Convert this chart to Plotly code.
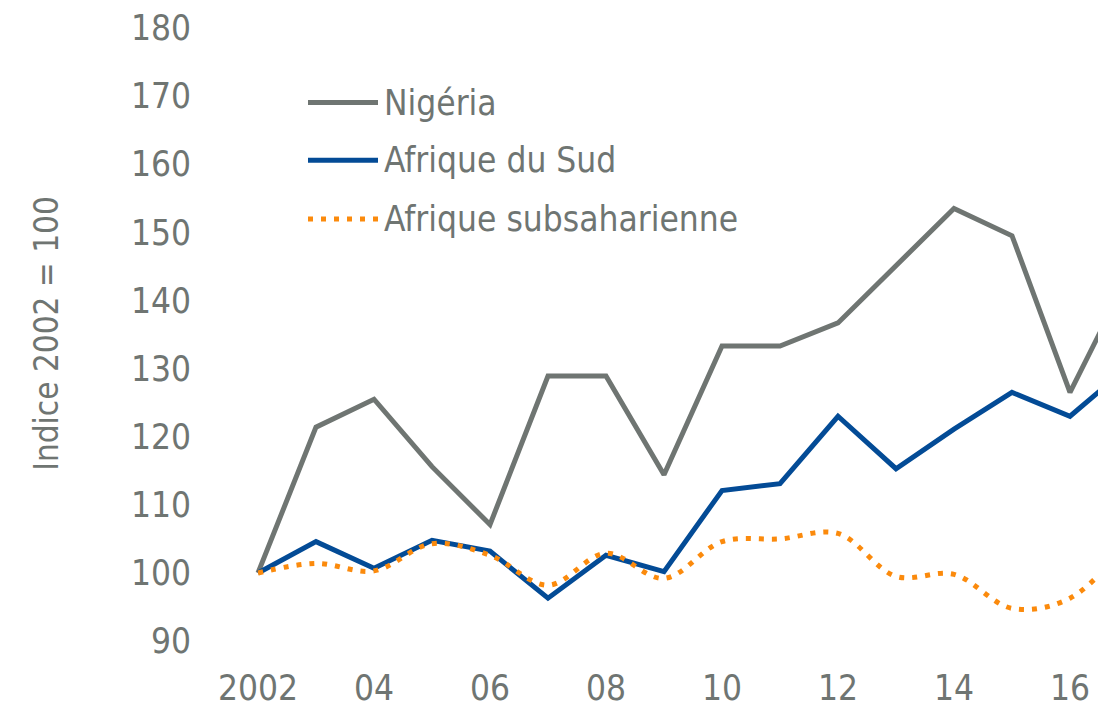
import plotly.graph_objects as go

years = list(range(2002, 2018))
nigeria = [100, 121.4, 125.5, 115.6, 107.1, 128.9, 128.9, 114.4, 133.3, 133.3, 136.7, 145.2, 153.5, 149.5, 126.5, 143.5]
afrique_sud = [100, 104.6, 100.7, 104.8, 103.2, 96.3, 102.6, 100.2, 112.1, 113.1, 123.0, 115.3, 121.1, 126.5, 123.0, 130.2]
afrique_subsah = [100, 101.4, 100.3, 104.3, 102.6, 98.2, 102.9, 99.2, 104.6, 105.0, 105.8, 99.5, 99.8, 94.8, 96.3, 104.5]

tick_vals = [2002, 2004, 2006, 2008, 2010, 2012, 2014, 2016]
tick_text = ["2002", "04", "06", "08", "10", "12", "14", "16"]
y_ticks = list(range(90, 181, 10))

series_names = ["Nigéria", "Afrique du Sud", "Afrique subsaharienne"]

GRAY = "#6f7572"
BLUE = "#034b96"
ORANGE = "#fb8a0c"
FONT = "Liberation Sans Narrow, Arial Narrow, DejaVu Sans Condensed, sans-serif"
FS = 35

# figure sits at (8, 8) inside the page because of the body margin
FIG_W, FIG_H = 1090, 700
OFF = 8
L_W, T_W, B_W, R_W = 192, 8, 660, 1098   # plot area in window pixels
L, T, B, R = L_W - OFF, T_W - OFF, B_W - OFF, R_W - OFF
PW, PH = R - L, B - T

PX_PER_YEAR = 58.0
X2002_W = 258.0
PX_PER_UNIT = (643 - 27) / 90.0
Y180_W = 27.0

def px(xw):
    return (xw - OFF - L) / PW

def py(yw):
    return (B - (yw - OFF)) / PH

fig = go.Figure()
fig.add_trace(go.Scatter(x=years, y=nigeria, name=series_names[0], mode="lines",
                         line=dict(color=GRAY, width=5)))
fig.add_trace(go.Scatter(x=years, y=afrique_sud, name=series_names[1], mode="lines",
                         line=dict(color=BLUE, width=5)))
fig.add_trace(go.Scatter(x=years, y=afrique_subsah, name=series_names[2], mode="lines",
                         line=dict(color=ORANGE, width=5, dash="5px,8px", shape="spline")))

# custom legend with long line samples like the original
legend_rows = [(102, GRAY, "solid"), (160, BLUE, "solid"), (219, ORANGE, "5px,8px")]
for (yw, col, dash), name in zip(legend_rows, series_names):
    fig.add_shape(type="line", xref="paper", yref="paper",
                  x0=px(308), x1=px(378), y0=py(yw), y1=py(yw),
                  line=dict(color=col, width=5, dash=dash))
    fig.add_annotation(xref="paper", yref="paper", x=px(382), y=py(yw),
                       text=name, showarrow=False, xanchor="left", yanchor="middle",
                       font=dict(family=FONT, size=FS, color=GRAY))

x_lo = 2002 - (X2002_W - L_W) / PX_PER_YEAR
x_hi = 2002 + (R_W - X2002_W) / PX_PER_YEAR
y_hi = 180 + (Y180_W - T_W) / PX_PER_UNIT
y_lo = 180 - (B_W - Y180_W) / PX_PER_UNIT

fig.update_layout(
    width=FIG_W, height=FIG_H,
    margin=dict(l=L, r=FIG_W - R, t=T, b=FIG_H - B, pad=0),
    paper_bgcolor="white", plot_bgcolor="white",
    showlegend=False,
    font=dict(family=FONT, size=FS, color=GRAY),
)
fig.update_xaxes(range=[x_lo, x_hi],
                 tickvals=tick_vals, ticktext=tick_text, showgrid=False,
                 zeroline=False, showline=False, ticks="", ticklabelstandoff=6,
                 ticklabeloverflow="allow",
                 tickfont=dict(family=FONT, size=FS, color=GRAY))
fig.update_yaxes(range=[y_lo, y_hi], tickvals=y_ticks, showgrid=False,
                 zeroline=False, showline=False, ticks="",
                 ticklabeloverflow="allow",
                 tickfont=dict(family=FONT, size=FS, color=GRAY),
                 title=dict(text="Indice 2002 = 100", standoff=62,
                            font=dict(family=FONT, size=33, color=GRAY)))

fig.write_html("out.html")
